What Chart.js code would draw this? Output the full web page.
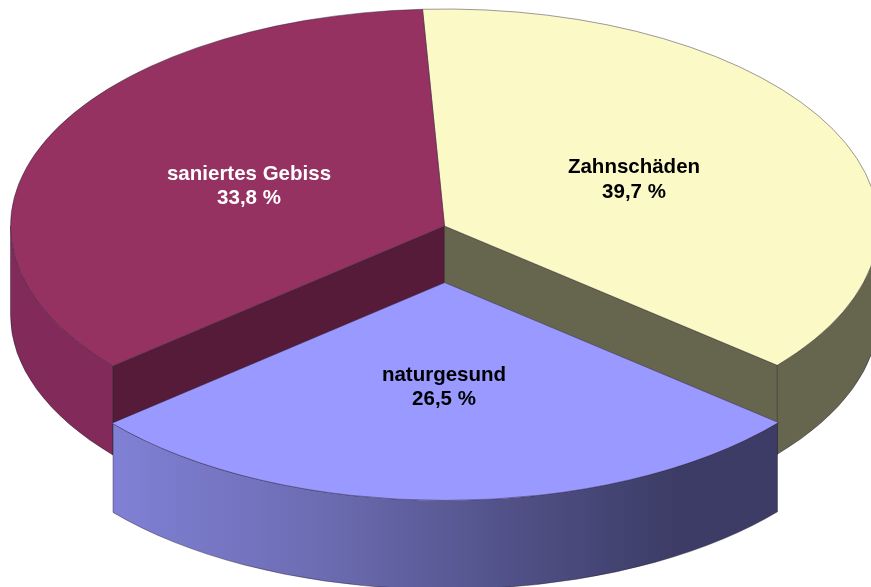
<!DOCTYPE html>
<html lang="de">
<head>
    <meta charset="UTF-8">
    <title>Zahnstatus</title>
    <script src="https://cdn.jsdelivr.net/npm/chart.js"></script>
    <style>
        body { margin: 0; background: #fff; }
        canvas { display: block; }
    </style>
</head>
<body>
    <canvas id="pie" width="871" height="587"></canvas>
    <script>
        const categories = ['Zahnschäden', 'naturgesund', 'saniertes Gebiss'];
        // printed percentages
        const values = [39.7, 26.5, 33.8];
        // shares as the slices are actually drawn in the picture: its 3D view
        // distorts the angles, so they differ from the printed percentages
        const drawnShares = [36.9, 27.75, 35.35];
        const topColors = ['#fbf9c6', '#9999ff', '#953262'];
        const textColors = ['#000', '#000', '#fff'];
        const explode = [0, 453, 0];

        // view: flat pie squashed to an ellipse, with a wall below it
        const squash = 0.5;
        const centerY = 226;
        const depth = 89;

        function toScreen(ctx, chart) {
            const midY = (chart.chartArea.top + chart.chartArea.bottom) / 2;
            ctx.translate(0, centerY - midY * squash);
            ctx.scale(1, squash);
        }

        // same displacement as the arc element applies for its offset
        function sliceBox(el) {
            const mid = (el.startAngle + el.endAngle) / 2;
            const off = (el.options.offset || 0) / 4;
            const fix = 1 - Math.sin(Math.min(Math.PI, el.circumference));
            const d = off * (1 + fix);
            const midY = (el.$context.chart.chartArea.top + el.$context.chart.chartArea.bottom) / 2;
            return {
                x: el.x + Math.cos(mid) * d,
                y: centerY + (el.y - midY + Math.sin(mid) * d) * squash,
                rx: el.outerRadius,
                ry: el.outerRadius * squash
            };
        }

        function outerWall(ctx, el, fill) {
            const b = sliceBox(el);
            // only the front half of the rim is visible
            const ranges = [[el.startAngle, el.endAngle], [el.startAngle + 2 * Math.PI, el.endAngle + 2 * Math.PI], [el.startAngle - 2 * Math.PI, el.endAngle - 2 * Math.PI]];
            ranges.forEach(([a, c]) => {
                const t0 = Math.max(a, 0), t1 = Math.min(c, Math.PI);
                if (t1 <= t0) return;
                ctx.beginPath();
                ctx.ellipse(b.x, b.y, b.rx, b.ry, 0, t0, t1);
                ctx.ellipse(b.x, b.y + depth, b.rx, b.ry, 0, t1, t0, true);
                ctx.closePath();
                ctx.fillStyle = fill;
                ctx.fill();
                ctx.strokeStyle = 'rgba(40,30,50,0.55)';
                ctx.lineWidth = 0.8;
                ctx.stroke();
            });
        }

        function innerWall(ctx, el, angle, fill) {
            const b = sliceBox(el);
            const ex = b.x + Math.cos(angle) * b.rx;
            const ey = b.y + Math.sin(angle) * b.ry;
            ctx.beginPath();
            ctx.moveTo(b.x, b.y);
            ctx.lineTo(ex, ey);
            ctx.lineTo(ex, ey + depth);
            ctx.lineTo(b.x, b.y + depth);
            ctx.closePath();
            ctx.fillStyle = fill;
            ctx.fill();
            ctx.strokeStyle = 'rgba(30,25,30,0.5)';
            ctx.lineWidth = 0.8;
            ctx.stroke();
        }

        const walls = {
            id: 'walls',
            beforeDatasetsDraw(chart) {
                const ctx = chart.ctx;
                const [yellow, blue, maroon] = chart.getDatasetMeta(0).data;

                outerWall(ctx, maroon, '#822a59');
                outerWall(ctx, yellow, '#66654d');
                innerWall(ctx, maroon, maroon.startAngle, '#551b38');
                innerWall(ctx, yellow, yellow.endAngle, '#66654d');

                const grad = ctx.createLinearGradient(113, 0, 778, 0);
                grad.addColorStop(0, '#8080d6');
                grad.addColorStop(0.3, '#6d6db4');
                grad.addColorStop(0.62, '#4f4f85');
                grad.addColorStop(0.85, '#3c3c66');
                grad.addColorStop(1, '#3c3c66');
                outerWall(ctx, blue, grad);

                ctx.save();
                toScreen(ctx, chart);
            },
            afterDatasetsDraw(chart) {
                chart.ctx.restore();
            }
        };

        const sliceLabels = {
            id: 'sliceLabels',
            afterDraw(chart) {
                const ctx = chart.ctx;
                const spots = [[634, 167, 192], [444, 375, 399], [249, 174, 198]];
                ctx.save();
                ctx.font = 'bold 20.5px "Liberation Sans", Arial, sans-serif';
                ctx.textAlign = 'center';
                ctx.textBaseline = 'middle';
                categories.forEach((name, i) => {
                    const [x, y1, y2] = spots[i];
                    ctx.fillStyle = textColors[i];
                    ctx.fillText(name, x, y1);
                    ctx.fillText(values[i].toFixed(1).replace('.', ',') + ' %', x, y2);
                });
                ctx.restore();
            }
        };

        new Chart(document.getElementById('pie'), {
            type: 'pie',
            data: {
                labels: categories,
                datasets: [{
                    data: drawnShares,
                    backgroundColor: topColors,
                    borderColor: 'rgba(40,30,50,0.6)',
                    borderWidth: 1,
                    offset: explode,
                    radius: 434,
                    clip: false
                }]
            },
            options: {
                responsive: false,
                animation: false,
                rotation: -2.9,
                layout: { padding: { left: 18 } },
                plugins: {
                    legend: { display: false },
                    tooltip: { enabled: false }
                }
            },
            plugins: [walls, sliceLabels]
        });
    </script>
</body>
</html>
